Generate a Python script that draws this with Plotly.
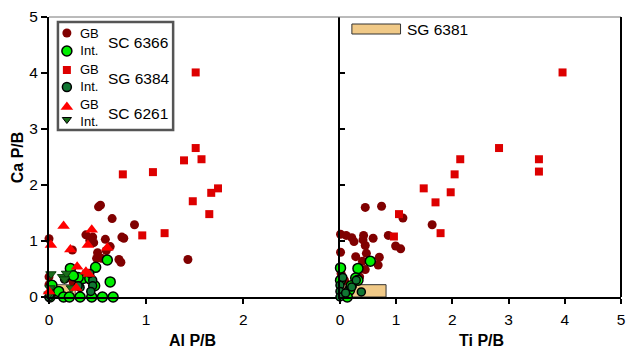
import plotly.graph_objects as go

# ---------------- data ----------------
# SG 6384 GB (red squares)
sq_al = [1.51, 1.51, 1.57, 1.39, 1.07, 0.76, 1.74, 1.67, 1.48, 1.65, 1.19, 0.96]
sq_ca_al = [4.01, 2.66, 2.46, 2.44, 2.23, 2.19, 1.94, 1.86, 1.71, 1.48, 1.14, 1.10]
sq_ti = [3.96, 2.83, 2.14, 3.54, 3.54, 2.04, 1.49, 1.97, 1.70, 1.05, 1.79, 0.96]
sq_ca_ti = [4.01, 2.66, 2.46, 2.46, 2.24, 2.19, 1.94, 1.87, 1.69, 1.48, 1.14, 1.08]

# SC 6366 GB (dark red circles)
dr_al = [0.51, 0.53, 0.65, 0.88, 0.00, 0.38, 0.45, 0.42, 0.58, 0.75, 0.77, 0.24, 0.59,
         0.63, 0.46, 0.50, 0.49, 0.54, 0.72, 0.74, 1.43, 0.23, 0.25, 0.00, 0.38, 0.00, 0.42]
dr_ca_al = [1.61, 1.64, 1.40, 1.29, 1.04, 1.11, 1.07, 1.01, 1.03, 1.07, 1.05, 0.84, 0.83,
            0.90, 0.97, 0.79, 0.69, 0.69, 0.67, 0.62, 0.67, 0.33, 0.26, 0.36, 0.42, 0.22, 0.30]
dr_ti = [0.45, 0.74, 1.12, 1.64, 0.01, 0.11, 0.21, 0.25, 0.42, 0.41, 0.59, 0.86, 0.99,
         1.08, 0.45, 0.01, 0.28, 0.47, 0.70, 0.68, 0.45, 0.40, 0.02, 0.08, 0.35]
dr_ca_ti = [1.60, 1.62, 1.41, 1.29, 1.12, 1.10, 1.06, 0.99, 1.10, 1.02, 1.05, 1.10, 0.91,
            0.86, 0.92, 0.80, 0.72, 0.78, 0.71, 0.57, 0.49, 0.64, 0.42, 0.30, 0.36]

# SC 6366 Int. (light green circles)
lg_al = [0.60, 0.48, 0.22, 0.35, 0.30, 0.63, 0.03, 0.10, 0.47, 0.42, 0.01, 0.15, 0.21,
         0.32, 0.44, 0.55, 0.66, 0.25]
lg_ca_al = [0.66, 0.53, 0.51, 0.33, 0.35, 0.27, 0.21, 0.10, 0.20, 0.33, 0.00, 0.00, 0.00,
            0.00, 0.00, 0.00, 0.00, 0.38]
lg_ti = [0.54, 0.32, 0.01, 0.28, 0.32, 0.17, 0.13, 0.01, 0.20]
lg_ca_ti = [0.64, 0.51, 0.52, 0.34, 0.30, 0.12, 0.00, 0.30, 0.20]

# SG 6384 Int. (dark green circles)
dg_al = [0.45, 0.45, 0.43, 0.32, 0.16, 0.00, 0.42, 0.30, 0.01]
dg_ca_al = [0.30, 0.20, 0.10, 0.17, 0.32, 0.00, 0.42, 0.20, 0.05]
dg_ti = [0.38, 0.00, 0.00, 0.00, 0.21, 0.10, 0.29, 0.05]
dg_ca_ti = [0.09, 0.21, 0.10, 0.00, 0.18, 0.07, 0.30, 0.35]

# SC 6261 GB (red triangles) and Int. (dark green down triangles)
rt_al = [0.15, 0.44, 0.02, 0.22, 0.40, 0.60, 0.29, 0.38, 0.41, 0.28, 0.00]
rt_ca = [1.27, 1.20, 0.93, 0.85, 0.93, 0.88, 0.54, 0.45, 0.41, 0.16, 0.10]
gt_al = [0.02, 0.14, 0.18, 0.01, 0.23, 0.00, 0.16]
gt_ca = [0.41, 0.36, 0.42, 0.16, 0.16, 0.05, 0.32]

# SG 6381 range boxes
sg_al = [0.0, 0.27]
sg_ti = [0.0, 0.82]
sg_ca = [0.0, 0.22]

# tick labels
al_ticks = [0, 1, 2]
ti_ticks = [0, 1, 2, 3, 4, 5]
ca_ticks = [0, 1, 2, 3, 4, 5]

# ---------------- styles ----------------
FONT = "Liberation Sans, Arial, Helvetica, sans-serif"
DARKRED = "#800000"
RED_SQ = "#dd0000"
RED_TRI = "#ff0000"
LGREEN = "#00ee00"
DGREEN = "#117733"
DTRI = "#1a6e1a"
TAN = "#f0c987"

fig = go.Figure()


def box(xr, yr):
    return [xr[0], xr[1], xr[1], xr[0], xr[0]], [yr[0], yr[0], yr[1], yr[1], yr[0]]


bx, by = box(sg_al, sg_ca)
fig.add_trace(go.Scatter(x=bx, y=by, fill="toself", fillcolor=TAN, mode="lines",
                         line=dict(color="#555555", width=1), xaxis="x", yaxis="y",
                         hoverinfo="skip"))
bx, by = box(sg_ti, sg_ca)
fig.add_trace(go.Scatter(x=bx, y=by, fill="toself", fillcolor=TAN, mode="lines",
                         line=dict(color="#333333", width=1), xaxis="x2", yaxis="y2",
                         hoverinfo="skip"))

def pts(x, y, ax, symbol, color, size, lw=0, lc="black"):
    fig.add_trace(go.Scatter(x=x, y=y, mode="markers", xaxis=ax[0], yaxis=ax[1],
                             cliponaxis=False,
                             marker=dict(symbol=symbol, color=color, size=size,
                                         line=dict(width=lw, color=lc))))

L = ("x", "y")
R = ("x2", "y2")
pts(dr_al, dr_ca_al, L, "circle", DARKRED, 9)
pts(dr_ti, dr_ca_ti, R, "circle", DARKRED, 9)
pts(sq_al, sq_ca_al, L, "square", RED_SQ, 8)
pts(sq_ti, sq_ca_ti, R, "square", RED_SQ, 8)
pts(lg_al, lg_ca_al, L, "circle", LGREEN, 10, 1.5)
pts(lg_ti, lg_ca_ti, R, "circle", LGREEN, 10, 1.5)
pts(dg_al, dg_ca_al, L, "circle", DGREEN, 8, 1.5)
pts(dg_ti, dg_ca_ti, R, "circle", DGREEN, 8, 1.5)
pts(gt_al, gt_ca, L, "triangle-down", DTRI, 9, 1, "#0a3a0a")
pts(rt_al, rt_ca, L, "triangle-up", RED_TRI, 11)

# ---------------- legend (pixel-space overlay axis) ----------------
leg_x = [67, 67, 67, 67, 67, 67]
leg_y = [33, 51, 70, 87, 107, 119.5]
leg_sym = ["circle", "circle", "square", "circle", "triangle-up", "triangle-down"]
leg_col = [DARKRED, LGREEN, RED_SQ, DGREEN, RED_TRI, DTRI]
leg_size = [9, 10, 8, 9, 11, 8]
leg_lw = [0, 1.5, 0, 1.5, 0, 1]
for i in range(6):
    fig.add_trace(go.Scatter(x=[leg_x[i]], y=[leg_y[i]], mode="markers", xaxis="x3", yaxis="y3",
                             cliponaxis=False, hoverinfo="skip",
                             marker=dict(symbol=leg_sym[i], color=leg_col[i], size=leg_size[i],
                                         line=dict(width=leg_lw[i], color="black"))))

annotations = []
pair_y = [42, 77.5, 112.5]
for yy in pair_y:
    annotations.append(dict(x=90, y=yy, xref="x3", yref="y3", text="GB<br>Int.", showarrow=False,
                            xanchor="center", yanchor="middle", align="center",
                            font=dict(family=FONT, size=13, color="black")))
grp_lbl = ["SC 6366", "SG 6384", "SC 6261"]
grp_y = [42, 78, 113]
for t, yy in zip(grp_lbl, grp_y):
    annotations.append(dict(x=106, y=yy, xref="x3", yref="y3", text=t, showarrow=False,
                            xanchor="left", yanchor="middle",
                            font=dict(family=FONT, size=15.5, color="black")))
annotations.append(dict(x=407, y=29, xref="x3", yref="y3", text="SG 6381", showarrow=False,
                        xanchor="left", yanchor="middle",
                        font=dict(family=FONT, size=15.5, color="black")))

W, H = 629, 351
ML, MR, MT, MB = 49, 4, 17, 54
PW = W - ML - MR
PH = H - MT - MB


def px_to_paper(px, py):
    return (px - ML) / PW, (H - MB - py) / PH


# axis titles (paper coordinates)
for txt, (px, py), ang in [("<b>Ca P/B</b>", (17, 157), -90),
                           ("<b>Al P/B</b>", (194, 340), 0),
                           ("<b>Ti P/B</b>", (485, 340), 0)]:
    xp, yp = px_to_paper(px, py)
    annotations.append(dict(x=xp, y=yp, xref="paper", yref="paper", text=txt, showarrow=False,
                            textangle=ang, xanchor="center", yanchor="middle",
                            font=dict(family=FONT, size=16, color="black")))

shapes = [
    # legend box
    dict(type="rect", xref="x3", yref="y3", x0=58, x1=174, y0=22, y1=130,
         line=dict(color="#555555", width=2.5), fillcolor="rgba(0,0,0,0)"),
    # SG 6381 key swatch
    dict(type="rect", xref="x3", yref="y3", x0=354, x1=403, y0=24, y1=34,
         line=dict(color="#333333", width=1), fillcolor=TAN),
    # frame: top and right
    dict(type="line", xref="paper", yref="paper", x0=0, x1=1, y0=1, y1=1,
         line=dict(color="#777777", width=1)),
    dict(type="line", xref="paper", yref="paper", x0=1, x1=1, y0=0, y1=1,
         line=dict(color="black", width=2)),
]

split_l = (341 - ML) / PW
split_r = (342 - ML) / PW

tickfont = dict(family=FONT, size=15.5, color="black")
common_x = dict(showgrid=False, zeroline=False, showline=True, linecolor="black", linewidth=2,
                ticks="outside", ticklen=5, tickwidth=1.5, tickcolor="black", tickfont=tickfont,
                ticklabeloverflow="allow", ticklabelstandoff=2)

fig.update_layout(
    width=W, height=H, margin=dict(l=ML, r=MR, t=MT, b=MB),
    paper_bgcolor="white", plot_bgcolor="rgba(0,0,0,0)", showlegend=False,
    xaxis=dict(domain=[0, split_l], range=[0, 2.985], tickvals=al_ticks, anchor="y", **common_x),
    yaxis=dict(domain=[0, 1], range=[0, 5], tickvals=ca_ticks, anchor="x", showgrid=False,
               zeroline=False, showline=True, linecolor="black", linewidth=2, ticks="outside",
               ticklen=6, tickwidth=1.5, tickcolor="black", tickfont=tickfont,
               ticklabeloverflow="allow"),
    xaxis2=dict(domain=[split_r, 1], range=[0, 5], tickvals=ti_ticks, anchor="y2", **common_x),
    yaxis2=dict(domain=[0, 1], range=[0, 5], tickvals=ca_ticks, anchor="x2", showgrid=False,
                zeroline=False, showline=True, linecolor="black", linewidth=2, ticks="inside",
                ticklen=5, tickwidth=1.5, tickcolor="black", showticklabels=False),
    xaxis3=dict(domain=[0, 1], range=[ML, W - MR], anchor="y3", visible=False, fixedrange=True),
    yaxis3=dict(domain=[0, 1], range=[H - MB, MT], anchor="x3", visible=False, fixedrange=True),
    annotations=annotations, shapes=shapes,
)

fig.write_html("out.html", config={"displayModeBar": False},
               post_script="document.body.style.margin='0';document.body.style.overflow='hidden';")
